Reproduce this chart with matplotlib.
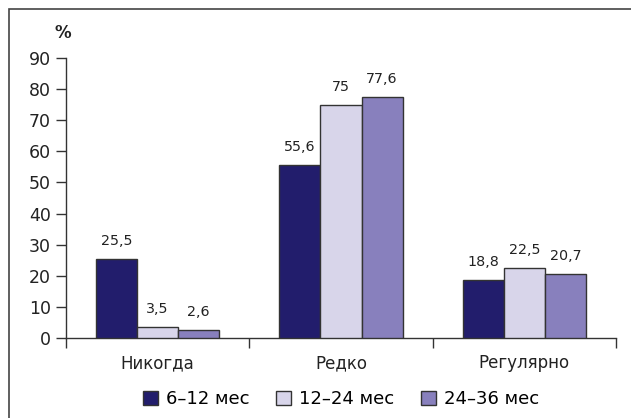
import matplotlib
matplotlib.use("Agg")
import matplotlib.pyplot as plt
from matplotlib.patches import Rectangle
import numpy as np

categories = ["Никогда", "Редко", "Регулярно"]
series_names = ["6–12 мес", "12–24 мес", "24–36 мес"]
values_6_12 = [25.5, 55.6, 18.8]
values_12_24 = [3.5, 75, 22.5]
values_24_36 = [2.6, 77.6, 20.7]
value_labels = [["25,5", "55,6", "18,8"], ["3,5", "75", "22,5"], ["2,6", "77,6", "20,7"]]
y_ticks = [0, 10, 20, 30, 40, 50, 60, 70, 80, 90]

colors = ["#221d6c", "#d8d5ea", "#8880bd"]
edge = "#333333"

plt.rcParams["font.family"] = ["DejaVu Sans"]

fig = plt.figure(figsize=(6.31, 4.18), dpi=100)
ax = fig.add_axes([66 / 631, 1 - 338 / 418, (616 - 66) / 631, (338 - 58) / 418])

x = np.arange(len(categories))
width = 0.224
all_vals = [values_6_12, values_12_24, values_24_36]
for i, vals in enumerate(all_vals):
    pos = x + (i - 1) * width
    ax.bar(pos, vals, width, color=colors[i], edgecolor=edge, linewidth=1.0,
           label=series_names[i], zorder=3)
    for p, v, t in zip(pos, vals, value_labels[i]):
        ax.text(p, v + 3.5, t, ha="center", va="bottom", fontsize=10.3, color="#222222")

ax.set_xlim(-0.5, 2.5)
ax.set_ylim(0, 90)
ax.set_yticks(y_ticks)
ax.set_yticklabels([str(t) for t in y_ticks], fontsize=12.5, color="#222222")
ax.set_xticks([-0.5, 0.5, 1.5, 2.5])
ax.set_xticklabels([])
ax.tick_params(axis="y", direction="out", length=7, width=1, color="#333333", pad=4)
ax.tick_params(axis="x", direction="out", length=7, width=1, color="#333333")
for i, c in enumerate(categories):
    ax.text(i, -8, c, ha="center", va="center", fontsize=12, color="#222222")

for s in ["top", "right"]:
    ax.spines[s].set_visible(False)
for s in ["left", "bottom"]:
    ax.spines[s].set_color("#333333")
    ax.spines[s].set_linewidth(1.0)

fig.text(63 / 631, 1 - 33 / 418, "%", ha="center", va="center", fontsize=12,
         fontweight="bold", color="#222222")

fig.legend(loc="center", bbox_to_anchor=(341 / 631, 1 - 399 / 418), ncol=3, frameon=False,
           fontsize=13, handlelength=0.85, handleheight=0.85, handletextpad=0.45,
           columnspacing=1.45)

# outer frame
fig.patches.append(Rectangle((9 / 631, -0.1), 1.2, 1 - 9 / 418 + 0.1, transform=fig.transFigure,
                             fill=False, edgecolor="#444444", linewidth=1.2))

fig.savefig("out.png", dpi=100)
